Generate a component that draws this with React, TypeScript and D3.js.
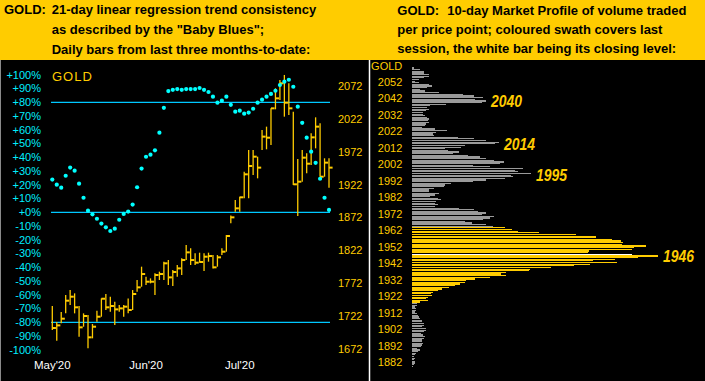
import React from "react";
import * as d3 from "d3";

// ---- Left chart data: daily HLC bars (May'20 - Jul'20) ----
const highs = [1737.0,1712.6,1727.8,1753.7,1761.3,1756.3,1737.0,1725.8,1723.3,1709.6,1729.9,1748.6,1755.3,1751.2,1743.6,1738.5,1738.5,1748.6,1761.3,1776.6,1796.9,1781.7,1779.1,1786.7,1789.3,1804.5,1807.0,1791.8,1799.4,1809.6,1829.9,1824.8,1817.2,1818.2,1817.2,1818.2,1814.6,1814.6,1824.8,1845.1,1875.0,1898.4,1903.5,1941.6,1974.5,1974.5,1964.4,2005.0,2010.1,2038.0,2068.5,2081.1,2088.8,2076.1,2032.9,1960.8,1974.5,1969.5,1999.9,2024.3,2015.2,1961.9,1961.9];
const lows = [1700.4,1684.2,1710.6,1725.8,1738.5,1725.8,1690.3,1705.5,1672.5,1687.8,1713.1,1720.7,1730.9,1728.4,1708.1,1728.4,1720.7,1725.8,1730.9,1758.8,1766.4,1769.0,1771.5,1753.7,1776.6,1776.6,1769.0,1767.5,1781.7,1784.2,1807.0,1799.4,1799.4,1803.0,1790.3,1804.5,1794.3,1796.9,1814.6,1819.7,1862.9,1880.6,1880.6,1900.9,1900.9,1936.5,1931.4,1974.5,1975.6,1982.2,2036.5,2050.7,2025.3,2027.9,1921.3,1874.0,1926.3,1939.0,1951.7,1977.1,1933.9,1933.9,1917.2];
const closes = [1703.5,1707.5,1717.7,1745.1,1751.2,1735.0,1704.5,1721.8,1689.3,1705.5,1720.7,1748.1,1735.0,1737.0,1731.9,1733.4,1736.0,1730.9,1755.3,1765.4,1785.7,1774.0,1774.0,1784.2,1785.7,1802.0,1780.6,1788.8,1794.3,1807.0,1818.7,1807.0,1803.0,1804.0,1812.1,1813.1,1795.9,1811.1,1819.7,1843.6,1872.0,1885.7,1902.5,1937.5,1950.2,1964.4,1947.7,1994.9,1993.3,2038.0,2053.2,2076.1,2046.6,2038.0,1922.3,1926.3,1962.9,1953.7,1993.8,2010.1,1933.9,1955.3,1947.7];
// "Baby Blues": 21-day linear regression trend consistency (%)
const blues = [23.8,20.1,17.9,26.6,32.5,30.3,20.8,10.6,1.2,-1.5,-4.7,-8.2,-10.9,-13.6,-11.9,-5.4,-1.2,0.5,5.6,18.2,31.8,40.4,41.9,45.1,57.9,76.0,88.2,89.1,89.6,89.1,89.6,89.6,89.6,90.4,89.1,87.5,84.1,79.7,81.2,84.1,78.2,73.2,73.9,71.7,72.5,75.3,79.7,81.9,84.1,86.1,88.4,92.6,95.0,96.4,91.3,76.8,65.1,54.3,44.1,36.0,24.4,10.6,1.7];
const pctTicks = [100,90,80,70,60,50,40,30,20,10,0,-10,-20,-30,-40,-50,-60,-70,-80,-90,-100];
const pctLines = [80, 0, -80];
const priceTicks = [2072,2022,1972,1922,1872,1822,1772,1722,1672];
const monthLabels = ["May'20", "Jun'20", "Jul'20"];
const monthIndex = [0, 21, 42];

// ---- Right chart data: 10-day market profile ----
const profileTop = 2059; // price of first (top) row, one row per $1 going down
const profileVolume = [2,8,12,12,17,17,12,7,3,7,17,20,15,8,13,27,51,62,71,63,74,70,34,18,15,17,14,11,11,13,15,17,16,17,14,13,10,23,35,24,21,22,46,62,74,87,83,53,49,33,36,47,41,56,68,74,82,92,88,61,78,111,103,106,119,99,101,93,74,61,39,33,32,22,17,17,27,23,18,26,29,24,23,26,23,47,62,66,74,70,82,78,71,53,60,74,81,93,100,106,127,164,184,184,200,209,211,210,234,222,220,177,176,220,246,226,203,181,205,178,162,139,118,117,94,89,94,78,63,54,53,48,43,37,30,26,21,19,20,16,14,16,8,5,5,3,4,4,3,5,6,7,8,10,10,12,12,10,14,14,12,9,11,13,12,10,10,11,10,9,5,8,6,4,3,2,3,2,3,3,2,1];
const sessionHigh = 1962;
const sessionLow = 1917;
const sessionClose = 1946;
const profileTicks = [2052,2042,2032,2022,2012,2002,1992,1982,1972,1962,1952,1942,1932,1922,1912,1902,1892,1882];
const peakLabels = ["2040", "2014", "1995", "1946"];
const peakLevels = [2040, 2014, 1995, 1946];

const GOLD = "#FFCC00";
const CYAN = "#00EEFF";
const LINE_CYAN = "#00C8FF";
const FONT = "'Liberation Sans', Arial, sans-serif";

export default function App() {
  const n = highs.length;
  const x = d3.scaleLinear().domain([0, n - 1]).range([52.3, 329]);
  const py = d3.scaleLinear().domain([1672, 2072]).range([348.7, 86]);
  const pcty = d3.scaleLinear().domain([-100, 100]).range([349.8, 74.8]);
  const profY = d3.scaleLinear().domain([1882, 2052]).range([359.8, 79.5]);
  const profX = d3.scaleLinear().domain([0, 250]).range([412, 662]);

  const profile = profileVolume.map((v, i) => ({ price: profileTop - i, v }));
  const nearMax = (lvl: number) =>
    d3.max(profile.filter((p) => Math.abs(p.price - lvl) <= 2), (p) => p.v) || 0;

  return (
    <svg
      width={705}
      height={381}
      style={{ position: "fixed", left: 0, top: 0, display: "block" }}
      fontFamily={FONT}
    >
      <rect x={0} y={0} width={705} height={381} fill="#000" />
      <rect x={0} y={0} width={705} height={60} fill={GOLD} />

      {/* headers */}
      <g fontWeight="bold" fontSize={13} fill="#000">
        <text x={4} y={13.5}>GOLD:</text>
        <text x={51.7} y={13.5}>21-day linear regression trend consistency</text>
        <text x={51.7} y={34.3}>as described by the "Baby Blues";</text>
        <text x={51.7} y={53.7}>Daily bars from last three months-to-date:</text>
        <text x={397.3} y={15}>GOLD:</text>
        <text x={447.3} y={15}>10-day Market Profile of volume traded</text>
        <text x={397.3} y={34.3}>per price point; coloured swath covers last</text>
        <text x={397.3} y={53.3}>session, the white bar being its closing level:</text>
      </g>

      {/* borders */}
      <line x1={0.5} y1={60} x2={0.5} y2={381} stroke="#8a8a8a" strokeWidth={1} />
      <line x1={369.5} y1={60} x2={369.5} y2={381} stroke="#fff" strokeWidth={1.5} />

      {/* left chart: percent axis */}
      <g fontSize={11} fill={CYAN} textAnchor="end">
        {pctTicks.map((t) => (
          <text key={t} x={41} y={pcty(t) + 3.8}>
            {(t >= 0 ? "+" : "") + t + "%"}
          </text>
        ))}
      </g>
      {pctLines.map((t) => (
        <line key={t} x1={51} x2={330} y1={pcty(t)} y2={pcty(t)} stroke={LINE_CYAN} strokeWidth={1.2} />
      ))}

      {/* price axis */}
      <g fontSize={11} fill={GOLD}>
        {priceTicks.map((t) => (
          <text key={t} x={338} y={py(t) + 4}>{t}</text>
        ))}
      </g>

      {/* month labels */}
      <g fontSize={11.5} fill="#fff" textAnchor="middle">
        {monthLabels.map((m, i) => (
          <text key={m} x={x(monthIndex[i])} y={369}>{m}</text>
        ))}
      </g>

      <text x={52} y={80.7} fontSize={13} fill={GOLD} letterSpacing={1}>GOLD</text>

      {/* HLC bars */}
      <g stroke={GOLD}>
        {highs.map((h, i) => (
          <g key={i}>
            <line x1={x(i)} x2={x(i)} y1={py(h)} y2={py(lows[i])} strokeWidth={1.3} />
            <line x1={x(i)} x2={x(i) + 3.6} y1={py(closes[i])} y2={py(closes[i])} strokeWidth={2} />
          </g>
        ))}
      </g>

      {/* Baby Blues dots */}
      <g fill="#00FFFF">
        {blues.map((b, i) => (
          <circle key={i} cx={x(i)} cy={pcty(b)} r={2.1} />
        ))}
      </g>

      {/* right chart: profile labels */}
      <g fontSize={11} fill={GOLD} textAnchor="end">
        <text x={402.3} y={70}>GOLD</text>
        {profileTicks.map((t) => (
          <text key={t} x={402.3} y={profY(t) + 6.2}>{t}</text>
        ))}
      </g>

      <g shapeRendering="crispEdges">
        {profile.map((d) => {
          let fill = "#9a9a9a";
          if (d.price <= sessionHigh && d.price >= sessionLow) fill = GOLD;
          if (d.price === sessionClose) fill = "#ffffff";
          return (
            <rect key={d.price} x={profX(0)} y={profY(d.price) - 0.6} width={profX(d.v) - profX(0)} height={1.2} fill={fill} />
          );
        })}
      </g>

      {/* peak labels */}
      <g fontSize={16} fontWeight="bold" fontStyle="italic" fill={GOLD}>
        {peakLabels.map((l, i) => {
          const lvl = peakLevels[i];
          const xx = profX(nearMax(lvl)) + 5;
          return (
            <text key={l} x={xx} y={profY(lvl) + 8} textLength={31} lengthAdjust="spacingAndGlyphs">{l}</text>
          );
        })}
      </g>
    </svg>
  );
}
